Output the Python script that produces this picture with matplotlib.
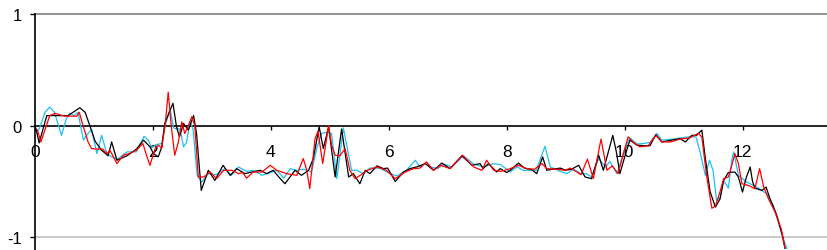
import matplotlib
matplotlib.use("Agg")
import matplotlib.pyplot as plt

black_x = [0.02,0.07,0.2,0.56,0.76,0.85,0.93,1.02,1.13,1.24,1.30,1.39,1.56,1.72,1.84,1.95,2.01,2.09,2.15,2.2,
           2.34,2.40,2.45,2.52,2.60,2.69,2.74,2.82,2.94,3.05,3.19,3.31,3.42,3.56,3.68,3.82,3.93,4.04,4.16,4.24,
           4.41,4.52,4.64,4.72,4.82,4.89,4.98,5.09,5.20,5.32,5.40,5.51,5.60,5.68,5.80,5.91,5.98,6.11,6.25,6.36,
           6.47,6.62,6.76,6.90,7.04,7.24,7.41,7.55,7.60,7.69,7.83,7.89,8.0,8.06,8.2,8.3,8.43,8.51,8.61,8.68,
           8.78,8.91,9.0,9.1,9.22,9.33,9.44,9.56,9.64,9.80,9.86,9.92,10.01,10.09,10.21,10.32,10.43,10.53,10.63,10.80,
           10.94,11.03,11.14,11.22,11.31,11.37,11.45,11.54,11.62,11.68,11.76,11.87,11.93,12.0,12.06,12.13,12.17,12.21,12.33,12.4,
           12.47,12.58,12.67,12.72]
black_y = [-0.03,-0.155,0.09,0.09,0.16,0.12,0.0,-0.14,-0.22,-0.27,-0.146,-0.31,-0.27,-0.21,-0.13,-0.19,-0.25,-0.28,-0.19,0.02,
           0.2,-0.01,-0.1,0.02,-0.04,0.09,-0.07,-0.58,-0.40,-0.49,-0.355,-0.445,-0.385,-0.43,-0.415,-0.40,-0.43,-0.40,-0.475,-0.52,
           -0.40,-0.445,-0.40,-0.295,-0.01,-0.205,-0.01,-0.46,-0.03,-0.46,-0.43,-0.52,-0.40,-0.43,-0.36,-0.385,-0.38,-0.50,-0.415,-0.385,
           -0.37,-0.34,-0.40,-0.335,-0.385,-0.27,-0.355,-0.34,-0.385,-0.34,-0.415,-0.385,-0.42,-0.40,-0.335,-0.38,-0.395,-0.43,-0.28,-0.40,
           -0.39,-0.38,-0.40,-0.39,-0.355,-0.46,-0.475,-0.265,-0.40,-0.087,-0.235,-0.43,-0.265,-0.13,-0.175,-0.18,-0.18,-0.08,-0.146,-0.13,
           -0.116,-0.146,-0.087,-0.087,-0.04,-0.295,-0.59,-0.73,-0.655,-0.49,-0.42,-0.415,-0.46,-0.595,-0.47,-0.37,-0.50,-0.56,-0.58,-0.55,
           -0.66,-0.80,-0.97,-1.10]

red_x = [0.04,0.10,0.25,0.34,0.5,0.71,0.75,0.82,0.90,0.96,1.05,1.15,1.22,1.27,1.39,1.50,1.60,1.72,1.83,1.89,
         1.95,2.04,2.09,2.15,2.21,2.26,2.31,2.37,2.43,2.49,2.54,2.60,2.66,2.71,2.77,2.86,2.97,3.08,3.2,3.34,
         3.45,3.52,3.59,3.70,3.85,3.99,4.1,4.27,4.44,4.55,4.61,4.66,4.75,4.80,4.88,4.98,5.03,5.09,5.17,5.26,
         5.34,5.43,5.53,5.63,5.80,5.96,6.11,6.28,6.42,6.53,6.64,6.76,6.88,7.04,7.25,7.44,7.58,7.66,7.78,7.90,
         8.06,8.2,8.34,8.47,8.6,8.68,8.85,8.99,9.08,9.19,9.26,9.37,9.47,9.60,9.70,9.79,9.89,9.98,10.06,10.15,
         10.26,10.40,10.53,10.63,10.78,10.94,11.1,11.25,11.31,11.39,11.48,11.54,11.62,11.68,11.76,11.81,11.87,11.93,11.99,12.12,
         12.21,12.29,12.36,12.44,12.55,12.66,12.72]
red_y = [-0.04,-0.146,0.09,0.11,0.085,0.085,0.12,-0.01,-0.146,-0.205,-0.21,-0.21,-0.25,-0.22,-0.34,-0.265,-0.25,-0.22,-0.16,-0.265,
         -0.355,-0.2,-0.175,-0.2,0.02,0.30,0.0,-0.265,-0.15,0.035,-0.07,0.0,0.08,0.0,-0.46,-0.46,-0.415,-0.475,-0.40,-0.40,
         -0.43,-0.42,-0.47,-0.415,-0.415,-0.355,-0.40,-0.43,-0.445,-0.295,-0.40,-0.565,-0.116,-0.05,-0.34,0.0,-0.175,-0.265,-0.27,-0.205,
         -0.40,-0.475,-0.44,-0.40,-0.37,-0.40,-0.475,-0.415,-0.385,-0.38,-0.325,-0.40,-0.355,-0.385,-0.265,-0.37,-0.40,-0.31,-0.40,-0.41,
         -0.385,-0.355,-0.385,-0.39,-0.34,-0.385,-0.39,-0.40,-0.38,-0.415,-0.44,-0.30,-0.475,-0.12,-0.40,-0.36,-0.43,-0.25,-0.10,-0.15,
         -0.19,-0.18,-0.087,-0.146,-0.146,-0.12,-0.11,-0.07,-0.10,-0.445,-0.74,-0.72,-0.59,-0.475,-0.46,-0.37,-0.25,-0.34,-0.52,-0.54,
         -0.565,-0.385,-0.55,-0.655,-0.77,-0.93,-1.09]

cyan_x = [0.02,0.07,0.17,0.25,0.33,0.45,0.53,0.59,0.66,0.73,0.82,0.90,0.96,1.05,1.13,1.22,1.30,1.40,1.56,1.72,
          1.85,1.92,1.98,2.05,2.15,2.21,2.29,2.35,2.40,2.46,2.52,2.57,2.63,2.68,2.75,2.83,2.94,3.07,3.22,3.33,
          3.45,3.59,3.70,3.85,3.99,4.1,4.22,4.33,4.44,4.55,4.69,4.78,4.86,4.94,5.03,5.12,5.23,5.37,5.46,5.57,
          5.68,5.85,6.02,6.14,6.30,6.45,6.53,6.64,6.71,6.83,6.94,7.07,7.27,7.44,7.61,7.78,7.90,8.06,8.12,8.18,
          8.28,8.50,8.65,8.74,8.91,9.02,9.13,9.27,9.35,9.44,9.56,9.68,9.75,9.87,10.01,10.09,10.21,10.32,10.43,10.55,
          10.63,10.83,10.94,11.1,11.21,11.28,11.37,11.44,11.5,11.56,11.62,11.68,11.76,11.82,11.85,11.93,12.07,12.24,12.41,12.52,
          12.66,12.75]
cyan_y = [-0.07,-0.03,0.12,0.167,0.12,-0.087,0.06,0.11,0.09,0.12,-0.13,-0.07,-0.035,-0.25,-0.087,-0.25,-0.28,-0.30,-0.235,-0.235,
          -0.095,-0.13,-0.20,-0.17,-0.16,0.0,0.15,-0.02,-0.03,-0.03,-0.19,-0.15,0.035,-0.03,-0.445,-0.505,-0.43,-0.44,-0.385,-0.445,
          -0.37,-0.41,-0.40,-0.445,-0.42,-0.40,-0.47,-0.385,-0.40,-0.39,-0.415,-0.2,-0.07,-0.06,-0.07,-0.475,-0.02,-0.40,-0.40,-0.43,
          -0.38,-0.38,-0.43,-0.45,-0.40,-0.31,-0.37,-0.33,-0.37,-0.385,-0.345,-0.37,-0.27,-0.345,-0.37,-0.34,-0.35,-0.415,-0.39,-0.37,
          -0.40,-0.40,-0.185,-0.37,-0.41,-0.43,-0.39,-0.43,-0.43,-0.46,-0.295,-0.37,-0.32,-0.43,-0.2,-0.11,-0.165,-0.16,-0.15,-0.07,
          -0.13,-0.12,-0.11,-0.1,-0.1,-0.235,-0.445,-0.31,-0.40,-0.67,-0.64,-0.49,-0.56,-0.30,-0.235,-0.445,-0.505,-0.55,-0.61,-0.71,
          -0.96,-1.10]

x_ticks = [0, 2, 4, 6, 8, 10, 12]
x_tick_labels = ["0", "2", "4", "6", "8", "10", "12"]
y_ticks = [-1, 0, 1]
y_tick_labels = ["-1", "0", "1"]

plt.rcParams['font.family'] = ['Liberation Sans', 'DejaVu Sans']

fig = plt.figure(figsize=(8.28, 2.51), dpi=100)
ax = fig.add_axes([35/828, 0.0, 1 - 35/828, 1 - 15/251])
ax.set_xlim(0, 13.45)
ax.set_ylim(-1.1138, 1.0)

ax.axhline(1, color='#808080', lw=1.2, zorder=1, clip_on=False)
ax.axhline(-1, color='#c0c0c0', lw=1.2, zorder=1)

ax.plot(cyan_x, cyan_y, color='#1ec0f0', lw=0.9, zorder=3)
ax.plot(black_x, black_y, color='black', lw=0.9, zorder=4)
ax.plot(red_x, red_y, color='#ff0000', lw=0.9, zorder=5)

for s in ['top', 'right']:
    ax.spines[s].set_visible(False)
ax.spines['bottom'].set_position(('data', 0))
ax.spines['bottom'].set_linewidth(1.2)
ax.spines['left'].set_linewidth(1.2)
ax.spines['bottom'].set_zorder(2)

ax.set_xticks(x_ticks)
ax.set_xticklabels(x_tick_labels)
ax.set_yticks(y_ticks)
ax.set_yticklabels(y_tick_labels)
ax.tick_params(axis='x', direction='out', length=3, width=1, pad=10, labelsize=12.5)
ax.tick_params(axis='y', direction='out', length=3.6, width=1, pad=6, labelsize=12)

fig.savefig("out.png", dpi=100)
